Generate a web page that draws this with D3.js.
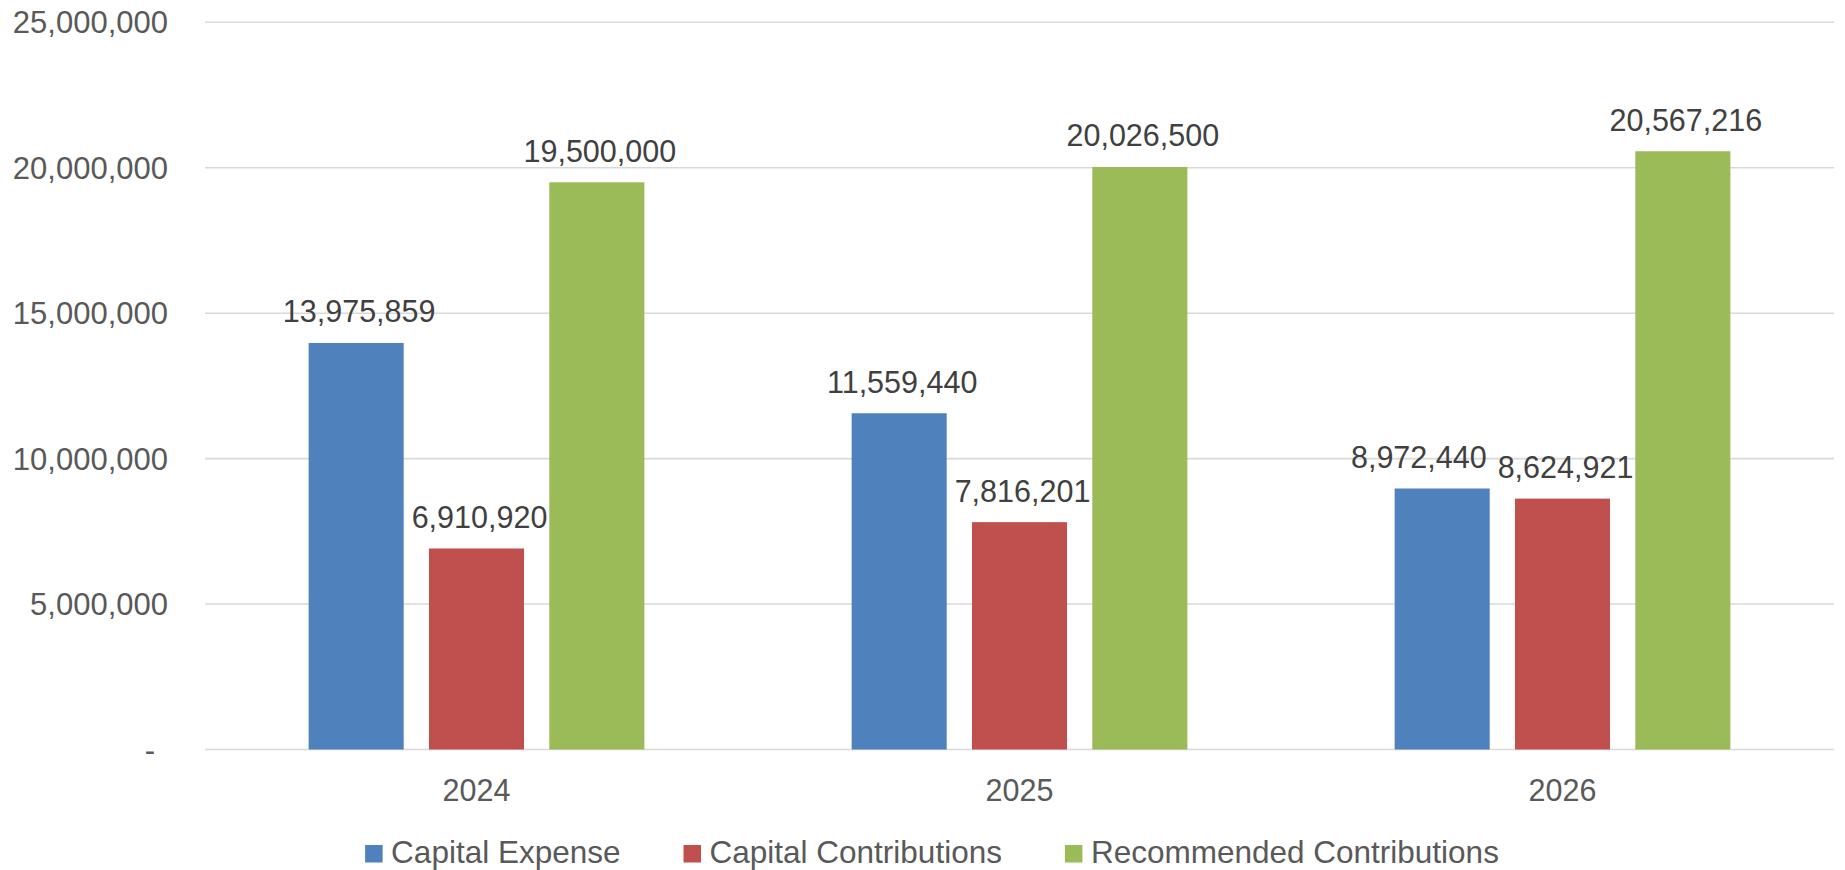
<!DOCTYPE html>
<html>
<head>
<meta charset="utf-8">
<script src="https://cdn.jsdelivr.net/npm/d3@7"></script>
<style>
  html, body { margin: 0; padding: 0; background: #ffffff; }
  svg { display: block; font-family: "Liberation Sans", Arial, sans-serif; }
</style>
</head>
<body>
<svg id="chart" width="1845" height="870"></svg>
<script>
// Fiscal years shown on the category axis
const years = ["2024", "2025", "2026"];

// Series names and their values per year
const seriesNames = ["Capital Expense", "Capital Contributions", "Recommended Contributions"];
const capitalExpense = [13975859, 11559440, 8972440];
const capitalContributions = [6910920, 7816201, 8624921];
const recommendedContributions = [19500000, 20026500, 20567216];

// Value axis ticks
const yTicks = [0, 5000000, 10000000, 15000000, 20000000, 25000000];

const seriesColors = ["#4F81BD", "#C0504D", "#9BBB59"];
const seriesValues = [capitalExpense, capitalContributions, recommendedContributions];

const svg = d3.select("#chart");
const plot = { left: 205, right: 1834, top: 22.3, bottom: 749.5 };

const x0 = d3.scaleBand().domain(years).range([plot.left, plot.right]).padding(0);
const groupInner = 361;
const x1 = d3.scaleBand()
  .domain(seriesNames)
  .range([(x0.bandwidth() - groupInner) / 2, (x0.bandwidth() + groupInner) / 2])
  .paddingInner(0.21)
  .paddingOuter(0.105);
const y = d3.scaleLinear().domain([0, 25000000]).range([plot.bottom, plot.top]);

const fmt = d3.format(",");
const axisColor = "#595959";
const labelColor = "#404040";
const fontFamily = '"Liberation Sans", Arial, sans-serif';

// Horizontal gridlines
svg.append("g")
  .selectAll("line")
  .data(yTicks)
  .join("line")
  .attr("x1", plot.left).attr("x2", plot.right)
  .attr("y1", d => y(d)).attr("y2", d => y(d))
  .attr("stroke", "#D9D9D9")
  .attr("stroke-width", 1.6);

// Value axis labels
const yAxis = d3.axisLeft(y)
  .tickValues(yTicks)
  .tickSize(0)
  .tickPadding(37)
  .tickFormat(d => d === 0 ? "-" : fmt(d));
const yg = svg.append("g").attr("transform", `translate(${plot.left},0)`).call(yAxis);
yg.select(".domain").remove();
yg.selectAll("text")
  .attr("fill", axisColor)
  .style("font-size", "31px")
  .style("font-family", fontFamily)
  .attr("dy", "0.34em");
// accounting-style dash for zero sits a little left of the digits
yg.selectAll(".tick").filter(d => d === 0).select("text").attr("dx", -13);

// Category axis labels
const xg = svg.append("g").attr("transform", `translate(0,${plot.bottom})`)
  .call(d3.axisBottom(x0).tickSize(0).tickPadding(30));
xg.select(".domain").remove();
xg.selectAll("text")
  .attr("fill", axisColor)
  .style("font-size", "30.5px")
  .style("font-family", fontFamily)
  .attr("dy", "0.71em");

// Build flat records for bars
const records = [];
years.forEach((yr, i) => {
  seriesNames.forEach((s, j) => {
    records.push({ year: yr, series: s, value: seriesValues[j][i], color: seriesColors[j], yi: i, si: j });
  });
});

// Bars
svg.append("g")
  .selectAll("rect")
  .data(records)
  .join("rect")
  .attr("x", d => x0(d.year) + x1(d.series))
  .attr("y", d => y(d.value))
  .attr("width", x1.bandwidth())
  .attr("height", d => y(0) - y(d.value))
  .attr("fill", d => d.color);

// Value labels above bars
const labels = svg.append("g")
  .selectAll("text")
  .data(records)
  .join("text")
  .attr("x", d => x0(d.year) + x1(d.series) + x1.bandwidth() / 2 + 3)
  .attr("y", d => y(d.value) - 20.5)
  .attr("text-anchor", "middle")
  .attr("fill", labelColor)
  .style("font-size", "30.5px")
  .text(d => fmt(d.value));

// Nudge a label left when it would collide with its right-hand neighbour
const nodes = labels.nodes();
for (let k = nodes.length - 2; k >= 0; k--) {
  const a = records[k], b = records[k + 1];
  if (a.yi !== b.yi) continue;
  const ba = nodes[k].getBBox(), bb = nodes[k + 1].getBBox();
  const vOverlap = ba.y < bb.y + bb.height && bb.y < ba.y + ba.height;
  const gap = 11;
  if (vOverlap && ba.x + ba.width > bb.x - gap) {
    const shift = ba.x + ba.width - (bb.x - gap);
    d3.select(nodes[k]).attr("x", +d3.select(nodes[k]).attr("x") - shift);
  }
}

// Legend
const legend = svg.append("g");
const items = legend.selectAll("g")
  .data(seriesNames)
  .join("g");
items.append("rect")
  .attr("width", 17.5).attr("height", 17.5)
  .attr("y", -17.5)
  .attr("fill", (d, i) => seriesColors[i]);
items.append("text")
  .attr("x", 26)
  .attr("fill", axisColor)
  .style("font-size", "31.5px")
  .text(d => d);
let cursor = 0;
items.each(function () {
  const g = d3.select(this);
  g.attr("transform", `translate(${cursor},0)`);
  const tw = g.select("text").node().getComputedTextLength();
  cursor += 26 + tw + 63;
});
const legendWidth = cursor - 63;
legend.attr("transform", `translate(${932 - legendWidth / 2},862.5)`);
</script>
</body>
</html>
